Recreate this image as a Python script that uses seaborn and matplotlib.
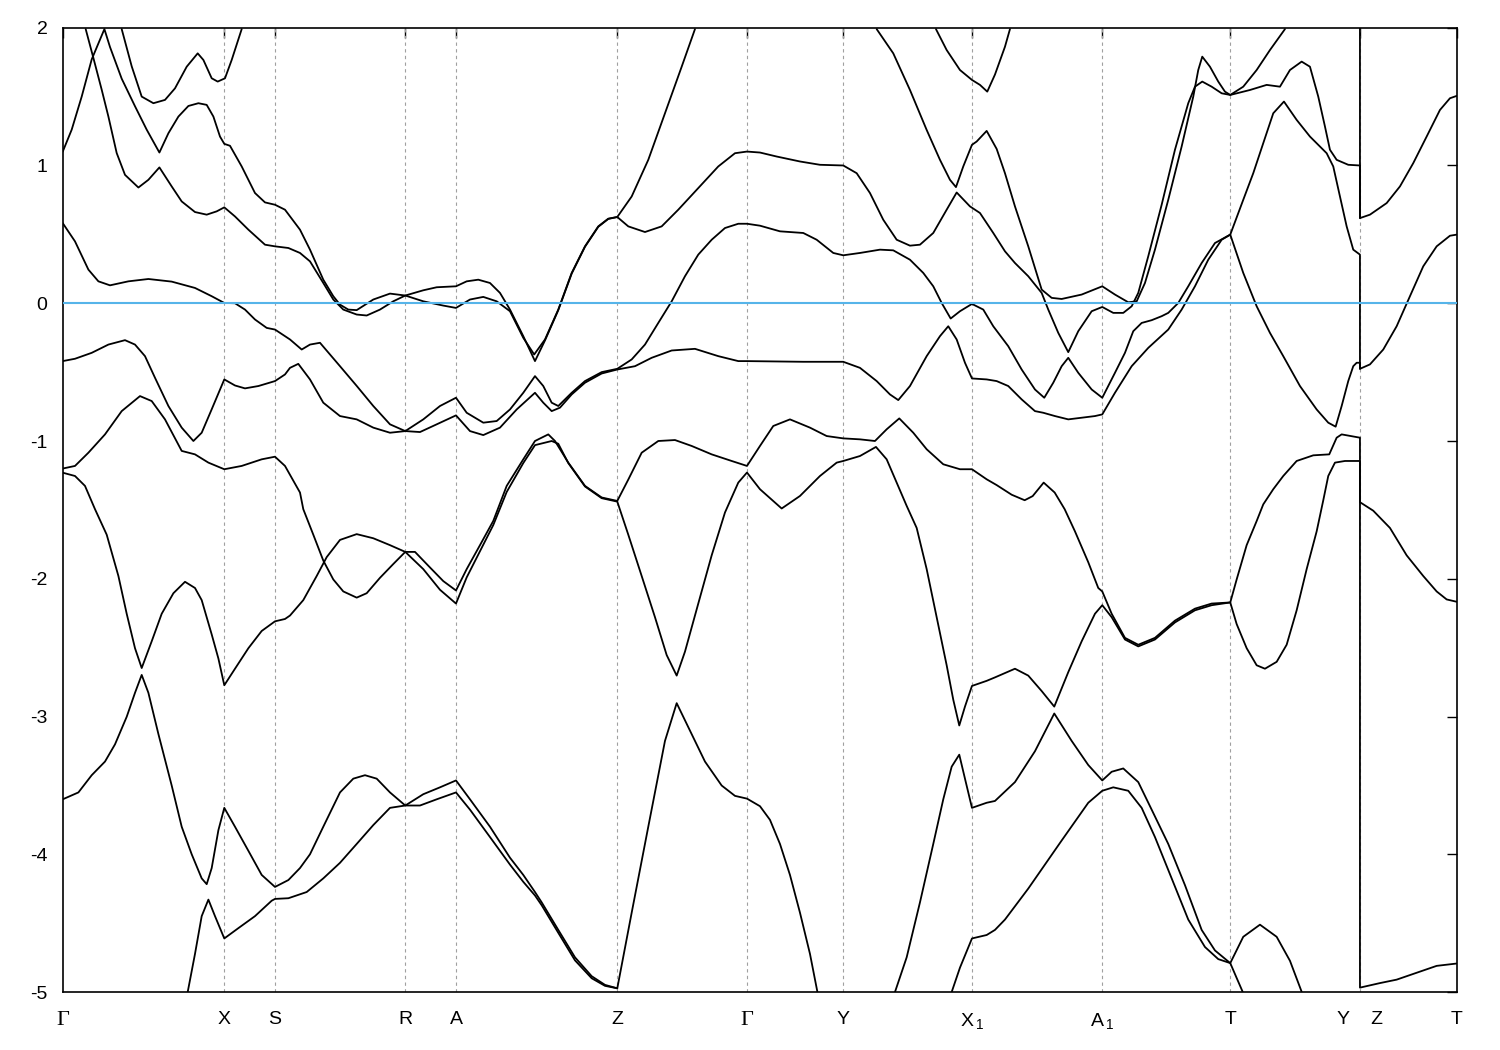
import numpy as np
import pandas as pd
import seaborn as sns
import matplotlib
matplotlib.use("Agg")
import matplotlib.pyplot as plt

# high-symmetry points along the k-path
kpoints = [0.0, 1.616, 2.123, 3.426, 3.933, 5.546, 6.843, 7.806, 9.093, 10.396, 11.676, 12.973, 13.94]
klabels = ["Γ", "X", "S", "R", "A", "Z", "Γ", "Y", r"X$_{\,1}$", r"A$_{\,1}$", "T", "Y    Z", "T"]

# bands as (k, E) pairs, energies in eV relative to E_F
band_a = [(0.0, 1.10), (0.09, 1.26), (0.19, 1.50), (0.29, 1.77), (0.417, 1.99), (0.473, 1.86), (0.59, 1.63),
          (0.723, 1.43), (0.84, 1.26), (0.967, 1.094), (1.057, 1.234), (1.157, 1.355), (1.257, 1.432),
          (1.357, 1.452), (1.44, 1.44), (1.507, 1.355), (1.573, 1.21), (1.616, 1.157), (1.673, 1.143),
          (1.79, 0.993), (1.923, 0.80), (2.023, 0.732), (2.123, 0.715), (2.223, 0.679), (2.373, 0.534),
          (2.473, 0.389), (2.606, 0.171), (2.706, 0.051), (2.773, -0.01), (2.856, -0.046), (2.94, -0.05),
          (3.106, 0.027), (3.273, 0.07), (3.426, 0.056), (3.606, 0.014), (3.806, -0.017), (3.933, -0.034),
          (4.073, 0.027), (4.206, 0.046), (4.34, 0.014), (4.473, -0.058), (4.606, -0.251), (4.715, -0.372),
          (4.823, -0.263), (4.956, -0.046), (5.09, 0.22), (5.223, 0.413), (5.356, 0.558), (5.456, 0.614),
          (5.546, 0.626), (5.69, 0.775), (5.856, 1.041), (6.023, 1.379), (6.19, 1.717), (6.323, 1.99)]

band_b = [(0.23, 1.99), (0.307, 1.78), (0.39, 1.55), (0.457, 1.355), (0.54, 1.09), (0.623, 0.932), (0.757, 0.84),
          (0.857, 0.896), (0.967, 0.986), (1.09, 0.848), (1.19, 0.739), (1.323, 0.662), (1.44, 0.643),
          (1.54, 0.667), (1.616, 0.696), (1.723, 0.63), (1.857, 0.534), (2.023, 0.425), (2.123, 0.413),
          (2.257, 0.401), (2.373, 0.365), (2.473, 0.304), (2.606, 0.147), (2.706, 0.027), (2.806, -0.046),
          (2.94, -0.082), (3.04, -0.089), (3.173, -0.046), (3.306, 0.014), (3.426, 0.056), (3.606, 0.094),
          (3.74, 0.116), (3.933, 0.123), (4.04, 0.159), (4.156, 0.171), (4.273, 0.147), (4.373, 0.075),
          (4.473, -0.046), (4.606, -0.239), (4.723, -0.42), (4.823, -0.27), (4.956, -0.05), (5.09, 0.215),
          (5.223, 0.41), (5.356, 0.555), (5.456, 0.612), (5.546, 0.626), (5.656, 0.558), (5.823, 0.517),
          (5.99, 0.558), (6.156, 0.679), (6.356, 0.836), (6.556, 0.993), (6.723, 1.089), (6.843, 1.101),
          (6.973, 1.094), (7.14, 1.065), (7.373, 1.029), (7.573, 1.005), (7.806, 1.0), (7.94, 0.944),
          (8.073, 0.80), (8.206, 0.606), (8.34, 0.461), (8.473, 0.418), (8.573, 0.425), (8.706, 0.51),
          (8.84, 0.679), (8.94, 0.804), (9.073, 0.703), (9.173, 0.655), (9.306, 0.51), (9.423, 0.377),
          (9.523, 0.292), (9.656, 0.196), (9.79, 0.075), (9.856, -0.046), (9.956, -0.215), (10.056, -0.355),
          (10.156, -0.203), (10.29, -0.058), (10.396, -0.027), (10.506, -0.07), (10.606, -0.07),
          (10.69, -0.022), (10.756, 0.075), (10.856, 0.341), (10.99, 0.715), (11.123, 1.114), (11.256, 1.452),
          (11.323, 1.572), (11.396, 1.609), (11.49, 1.572), (11.59, 1.524), (11.676, 1.512), (11.873, 1.548),
          (12.04, 1.585), (12.173, 1.572), (12.273, 1.693), (12.39, 1.754), (12.473, 1.717), (12.556, 1.50),
          (12.623, 1.283), (12.673, 1.114), (12.74, 1.041), (12.856, 1.005), (12.973, 1.0), (12.973, 0.618)]

band_c = [(0.59, 1.99), (0.69, 1.72), (0.79, 1.50), (0.907, 1.452), (1.023, 1.476), (1.123, 1.56), (1.24, 1.717),
          (1.35, 1.814), (1.407, 1.766), (1.49, 1.633), (1.55, 1.609), (1.623, 1.633), (1.69, 1.766), (1.79, 1.99)]

band_d = [(0.0, 0.582), (0.123, 0.449), (0.257, 0.244), (0.357, 0.159), (0.473, 0.13), (0.657, 0.159),
          (0.857, 0.176), (1.09, 0.157), (1.323, 0.111), (1.49, 0.051), (1.616, 0.002), (1.723, 0.0),
          (1.823, -0.046), (1.923, -0.118), (2.04, -0.179), (2.123, -0.191), (2.223, -0.239), (2.273, -0.263),
          (2.39, -0.336), (2.473, -0.30), (2.573, -0.287), (2.773, -0.457), (2.94, -0.60), (3.106, -0.746),
          (3.273, -0.879), (3.426, -0.928), (3.606, -0.843), (3.773, -0.746), (3.933, -0.686), (4.04, -0.795),
          (4.206, -0.867), (4.34, -0.855), (4.473, -0.771), (4.606, -0.65), (4.723, -0.529), (4.806, -0.601),
          (4.89, -0.722), (4.956, -0.746), (5.09, -0.65), (5.223, -0.565), (5.39, -0.50), (5.546, -0.476),
          (5.69, -0.408), (5.823, -0.30), (5.956, -0.143), (6.09, 0.014), (6.223, 0.196), (6.356, 0.353),
          (6.49, 0.461), (6.623, 0.546), (6.756, 0.577), (6.843, 0.577), (6.973, 0.563), (7.173, 0.522),
          (7.406, 0.51), (7.54, 0.461), (7.706, 0.365), (7.806, 0.348), (7.973, 0.365), (8.173, 0.389),
          (8.306, 0.384), (8.473, 0.316), (8.606, 0.22), (8.706, 0.123), (8.79, 0.002), (8.88, -0.111),
          (8.973, -0.058), (9.093, -0.005), (9.206, -0.046), (9.306, -0.167), (9.456, -0.312), (9.59, -0.481),
          (9.723, -0.626), (9.816, -0.686), (9.906, -0.577), (9.99, -0.457), (10.056, -0.396), (10.156, -0.505),
          (10.29, -0.626), (10.396, -0.686), (10.523, -0.505), (10.623, -0.36), (10.706, -0.203),
          (10.79, -0.143), (10.89, -0.123), (10.99, -0.094), (11.056, -0.07), (11.156, 0.002), (11.256, 0.123),
          (11.39, 0.292), (11.523, 0.437), (11.676, 0.498), (11.806, 0.22), (11.94, -0.022), (12.073, -0.215),
          (12.206, -0.384), (12.373, -0.601), (12.54, -0.771), (12.656, -0.867), (12.73, -0.896),
          (12.79, -0.746), (12.856, -0.565), (12.906, -0.457), (12.94, -0.432), (12.973, -0.432),
          (12.973, -0.476)]

band_e = [(0.0, -0.42), (0.123, -0.403), (0.29, -0.36), (0.457, -0.30), (0.623, -0.268), (0.723, -0.30),
          (0.823, -0.384), (0.923, -0.541), (1.057, -0.746), (1.19, -0.903), (1.307, -1.0), (1.39, -0.94),
          (1.49, -0.77), (1.616, -0.553), (1.723, -0.597), (1.823, -0.618), (1.957, -0.601), (2.123, -0.565),
          (2.223, -0.517), (2.273, -0.469), (2.356, -0.44), (2.473, -0.553), (2.606, -0.722), (2.773, -0.819),
          (2.94, -0.843), (3.106, -0.903), (3.273, -0.94), (3.426, -0.928), (3.573, -0.935), (3.74, -0.879),
          (3.933, -0.814), (4.073, -0.928), (4.206, -0.957), (4.373, -0.903), (4.54, -0.771), (4.723, -0.65),
          (4.806, -0.722), (4.89, -0.783), (4.973, -0.758), (5.09, -0.662), (5.223, -0.577), (5.39, -0.51),
          (5.546, -0.481), (5.723, -0.457), (5.89, -0.396), (6.09, -0.343), (6.323, -0.331), (6.556, -0.384),
          (6.756, -0.42), (6.843, -0.42), (7.406, -0.425), (7.806, -0.425), (7.973, -0.469), (8.14, -0.565),
          (8.273, -0.662), (8.356, -0.703), (8.473, -0.601), (8.64, -0.384), (8.773, -0.239), (8.856, -0.167),
          (8.94, -0.263), (9.023, -0.432), (9.093, -0.546), (9.24, -0.553), (9.34, -0.565), (9.456, -0.601),
          (9.59, -0.698), (9.723, -0.783), (9.806, -0.795), (9.923, -0.819), (10.056, -0.843), (10.19, -0.831),
          (10.323, -0.819), (10.396, -0.807), (10.523, -0.65), (10.69, -0.457), (10.856, -0.324),
          (11.056, -0.191), (11.19, -0.046), (11.323, 0.123), (11.456, 0.316), (11.59, 0.461), (11.676, 0.498),
          (11.806, 0.751), (11.906, 0.944), (12.006, 1.162), (12.106, 1.379), (12.213, 1.464), (12.34, 1.331),
          (12.473, 1.21), (12.64, 1.089), (12.706, 0.993), (12.773, 0.775), (12.84, 0.558), (12.906, 0.389),
          (12.973, 0.353), (12.973, -0.476), (13.073, -0.444), (13.206, -0.336), (13.34, -0.167),
          (13.473, 0.051), (13.606, 0.268), (13.74, 0.413), (13.873, 0.49), (13.94, 0.498)]

band_f = [(0.0, -1.20), (0.123, -1.181), (0.257, -1.085), (0.423, -0.952), (0.59, -0.783), (0.773, -0.674),
          (0.89, -0.71), (1.023, -0.843), (1.19, -1.072), (1.323, -1.097), (1.457, -1.157), (1.616, -1.205),
          (1.79, -1.181), (1.99, -1.133), (2.123, -1.114), (2.223, -1.181), (2.373, -1.374), (2.406, -1.495),
          (2.506, -1.68), (2.606, -1.868), (2.706, -2.005), (2.806, -2.092), (2.94, -2.137), (3.04, -2.105),
          (3.173, -1.993), (3.306, -1.893), (3.426, -1.805), (3.523, -1.805), (3.673, -1.918), (3.806, -2.017),
          (3.933, -2.085), (4.04, -1.93), (4.173, -1.756), (4.306, -1.58), (4.44, -1.326), (4.606, -1.133),
          (4.723, -1.0), (4.756, -0.988), (4.856, -0.952), (4.923, -1.0), (5.056, -1.157), (5.223, -1.326),
          (5.39, -1.41), (5.546, -1.435), (5.656, -1.28), (5.79, -1.085), (5.956, -1.0), (6.123, -0.993),
          (6.29, -1.036), (6.49, -1.097), (6.69, -1.145), (6.843, -1.181), (6.973, -1.036), (7.106, -0.891),
          (7.273, -0.843), (7.473, -0.903), (7.64, -0.964), (7.806, -0.981), (7.973, -0.988), (8.123, -1.0),
          (8.24, -0.915), (8.366, -0.836), (8.506, -0.94), (8.64, -1.06), (8.806, -1.169), (8.973, -1.205),
          (9.093, -1.205), (9.24, -1.278), (9.34, -1.32), (9.49, -1.39), (9.62, -1.43), (9.70, -1.40),
          (9.81, -1.302), (9.92, -1.374), (10.02, -1.495), (10.123, -1.656), (10.256, -1.88), (10.356, -2.067),
          (10.396, -2.092), (10.49, -2.254), (10.623, -2.429), (10.756, -2.479), (10.923, -2.429),
          (11.123, -2.304), (11.323, -2.217), (11.49, -2.18), (11.676, -2.172), (11.74, -2.329), (11.84, -2.504),
          (11.94, -2.628), (12.023, -2.653), (12.14, -2.603), (12.24, -2.479), (12.34, -2.229), (12.44, -1.93),
          (12.54, -1.656), (12.606, -1.431), (12.656, -1.254), (12.723, -1.157), (12.823, -1.145),
          (12.973, -1.145), (12.973, -4.968), (13.173, -4.935), (13.34, -4.91), (13.54, -4.86), (13.74, -4.81),
          (13.94, -4.793)]

band_g = [(0.0, -1.23), (0.123, -1.254), (0.223, -1.326), (0.323, -1.495), (0.44, -1.68), (0.557, -1.98),
          (0.64, -2.254), (0.723, -2.504), (0.79, -2.648), (0.89, -2.454), (0.99, -2.254), (1.107, -2.105),
          (1.223, -2.022), (1.323, -2.067), (1.39, -2.155), (1.49, -2.404), (1.557, -2.579), (1.616, -2.773),
          (1.723, -2.653), (1.857, -2.504), (1.99, -2.379), (2.123, -2.309), (2.223, -2.292), (2.273, -2.267),
          (2.406, -2.155), (2.54, -1.98), (2.64, -1.843), (2.773, -1.718), (2.94, -1.676), (3.106, -1.706),
          (3.273, -1.756), (3.426, -1.805), (3.606, -1.93), (3.773, -2.08), (3.933, -2.18), (4.04, -1.99),
          (4.173, -1.80), (4.306, -1.61), (4.44, -1.37), (4.606, -1.16), (4.723, -1.03), (4.89, -1.0),
          (4.956, -1.02), (5.056, -1.16), (5.223, -1.33), (5.39, -1.415), (5.546, -1.44), (5.656, -1.68),
          (5.79, -1.98), (5.923, -2.279), (6.04, -2.554), (6.14, -2.703), (6.223, -2.529), (6.356, -2.18),
          (6.49, -1.83), (6.623, -1.519), (6.756, -1.302), (6.843, -1.229), (6.973, -1.35), (7.19, -1.49),
          (7.373, -1.399), (7.573, -1.254), (7.74, -1.157), (7.806, -1.145), (7.973, -1.109), (8.133, -1.043),
          (8.24, -1.133), (8.34, -1.302), (8.44, -1.471), (8.54, -1.631), (8.64, -1.93), (8.74, -2.279),
          (8.84, -2.628), (8.906, -2.878), (8.966, -3.065), (9.023, -2.928), (9.093, -2.778), (9.24, -2.741),
          (9.323, -2.716), (9.523, -2.653), (9.656, -2.703), (9.79, -2.815), (9.916, -2.928), (10.056, -2.678),
          (10.19, -2.454), (10.323, -2.254), (10.396, -2.192), (10.49, -2.279), (10.623, -2.441),
          (10.756, -2.491), (10.923, -2.441), (11.123, -2.317), (11.323, -2.229), (11.49, -2.192),
          (11.676, -2.172), (11.74, -2.005), (11.84, -1.756), (11.94, -1.581), (12.006, -1.46), (12.106, -1.35),
          (12.206, -1.254), (12.34, -1.145), (12.506, -1.104), (12.666, -1.097), (12.74, -0.976),
          (12.79, -0.952), (12.973, -0.976), (12.973, -1.444), (13.106, -1.506), (13.273, -1.631),
          (13.44, -1.83), (13.606, -1.98), (13.74, -2.092), (13.84, -2.15), (13.94, -2.167)]

band_h = [(0.0, -3.601), (0.157, -3.551), (0.29, -3.426), (0.423, -3.327), (0.523, -3.202), (0.64, -3.002),
          (0.723, -2.828), (0.79, -2.698), (0.857, -2.828), (0.957, -3.127), (1.09, -3.501), (1.19, -3.80),
          (1.29, -4.0), (1.39, -4.175), (1.44, -4.217), (1.49, -4.10), (1.557, -3.825), (1.616, -3.663),
          (1.723, -3.80), (1.857, -3.975), (1.99, -4.15), (2.123, -4.237), (2.257, -4.187), (2.373, -4.10),
          (2.473, -4.0), (2.606, -3.80), (2.773, -3.551), (2.906, -3.451), (3.023, -3.426), (3.14, -3.451),
          (3.273, -3.551), (3.426, -3.646), (3.573, -3.646), (3.74, -3.601), (3.933, -3.551), (4.073, -3.676),
          (4.273, -3.875), (4.473, -4.075), (4.606, -4.2), (4.723, -4.299), (4.79, -4.37), (4.956, -4.57),
          (5.123, -4.77), (5.29, -4.90), (5.423, -4.955), (5.546, -4.973), (5.69, -4.424), (5.856, -3.80),
          (6.023, -3.177), (6.14, -2.903), (6.256, -3.077), (6.423, -3.327), (6.59, -3.501), (6.723, -3.576),
          (6.843, -3.596), (6.973, -3.651), (7.073, -3.75), (7.173, -3.925), (7.273, -4.15), (7.373, -4.424),
          (7.473, -4.723), (7.547, -4.998)]

band_i = [(1.25, -5.0), (1.323, -4.723), (1.39, -4.449), (1.457, -4.329), (1.523, -4.449), (1.616, -4.611),
          (1.757, -4.536), (1.923, -4.449), (2.09, -4.337), (2.123, -4.324), (2.257, -4.319), (2.44, -4.274),
          (2.606, -4.175), (2.773, -4.062), (2.94, -3.925), (3.106, -3.788), (3.273, -3.663), (3.426, -3.646),
          (3.606, -3.564), (3.773, -3.514), (3.933, -3.464), (4.073, -3.601), (4.273, -3.80), (4.473, -4.025),
          (4.606, -4.15), (4.723, -4.274), (4.79, -4.349), (4.956, -4.549), (5.123, -4.748), (5.29, -4.885),
          (5.423, -4.948), (5.546, -4.973)]

band_j = [(8.323, -5.0), (8.44, -4.748), (8.573, -4.349), (8.706, -3.925), (8.806, -3.601), (8.89, -3.364),
          (8.966, -3.277), (9.023, -3.451), (9.093, -3.663), (9.24, -3.626), (9.323, -3.613), (9.523, -3.476),
          (9.723, -3.252), (9.916, -2.978), (10.09, -3.177), (10.256, -3.352), (10.396, -3.464),
          (10.49, -3.401), (10.606, -3.377), (10.756, -3.476), (10.89, -3.676), (11.056, -3.925),
          (11.223, -4.224), (11.39, -4.549), (11.523, -4.698), (11.676, -4.79), (11.806, -4.599),
          (11.973, -4.511), (12.14, -4.599), (12.273, -4.773), (12.39, -4.998)]

band_k = [(8.89, -5.0), (8.973, -4.823), (9.093, -4.611), (9.24, -4.586), (9.323, -4.549), (9.423, -4.474),
          (9.656, -4.249), (9.99, -3.90), (10.256, -3.626), (10.396, -3.539), (10.506, -3.514),
          (10.656, -3.539), (10.79, -3.663), (10.923, -3.875), (11.09, -4.175), (11.256, -4.474),
          (11.423, -4.673), (11.556, -4.761), (11.676, -4.79), (11.74, -4.898), (11.80, -4.998)]

band_l = [(8.14, 1.99), (8.306, 1.814), (8.473, 1.548), (8.64, 1.258), (8.773, 1.041), (8.873, 0.896),
          (8.933, 0.843), (9.006, 0.993), (9.093, 1.15), (9.14, 1.174), (9.24, 1.251), (9.34, 1.12),
          (9.423, 0.944), (9.523, 0.703), (9.656, 0.413), (9.79, 0.099), (9.89, 0.039), (9.99, 0.031),
          (10.19, 0.063), (10.396, 0.123), (10.523, 0.063), (10.656, 0.007), (10.74, 0.014), (10.823, 0.147),
          (10.923, 0.389), (11.056, 0.751), (11.19, 1.138), (11.306, 1.50), (11.356, 1.693), (11.396, 1.79),
          (11.473, 1.717), (11.556, 1.609), (11.623, 1.536), (11.676, 1.512), (11.806, 1.572), (11.94, 1.693),
          (12.073, 1.838), (12.223, 1.99)]

band_m = [(8.733, 1.99), (8.84, 1.838), (8.973, 1.693), (9.093, 1.621), (9.173, 1.585), (9.246, 1.536),
          (9.323, 1.66), (9.423, 1.862), (9.473, 1.99)]

band_n = [(12.973, 2.1), (12.973, 0.618), (13.073, 0.643), (13.24, 0.727), (13.373, 0.848), (13.506, 1.017),
          (13.64, 1.21), (13.773, 1.403), (13.873, 1.488), (13.94, 1.505)]

bands = {"a": band_a, "b": band_b, "c": band_c, "d": band_d, "e": band_e, "f": band_f, "g": band_g,
         "h": band_h, "i": band_i, "j": band_j, "k": band_k, "l": band_l, "m": band_m, "n": band_n}

rows = []
for name, pts in bands.items():
    for order, (k, e) in enumerate(pts):
        rows.append({"band": name, "order": order, "k": k, "E": e})
df = pd.DataFrame(rows)

sns.set_theme(style="white")
plt.rcParams["font.family"] = ["Liberation Sans", "DejaVu Sans"]
plt.rcParams["mathtext.fontset"] = "custom"
plt.rcParams["mathtext.rm"] = "Liberation Sans"
plt.rcParams["mathtext.it"] = "Liberation Sans"
plt.rcParams["axes.unicode_minus"] = False

fig = plt.figure(figsize=(15, 10.5), dpi=100)
ax = fig.add_axes([0.0418, 0.0552, 0.9293, 0.9184])

# dashed guides at the interior high-symmetry points
for kp in kpoints[1:-1]:
    ax.axvline(kp, color="#a0a0a0", lw=0.8, ls=(0, (3, 3)), zorder=1)

sns.lineplot(data=df, x="k", y="E", units="band", estimator=None, sort=False,
             color="black", linewidth=1.3, legend=False, ax=ax, zorder=2)
for ln in ax.get_lines():
    ln.set_solid_joinstyle("round")

ax.axhline(0, color="#56b4e9", lw=1.5, zorder=3)

ax.set_xlim(kpoints[0], kpoints[-1])
ax.set_ylim(-5, 2)
ax.set_xticks(kpoints)
ax.set_xticklabels(klabels)
ax.set_yticks(range(-5, 3))
ax.set_xlabel("")
ax.set_ylabel("")

ax.tick_params(direction="in", top=True, right=True, length=7, width=1.0, labelsize=14, colors="black")
ax.tick_params(axis="x", pad=14)
ax.tick_params(axis="y", pad=11)
for lab in ax.get_xticklabels():
    if lab.get_text() == "Γ":
        lab.set_fontfamily(["Liberation Serif", "DejaVu Serif"])
        lab.set_fontsize(16)

for sp in ax.spines.values():
    sp.set_linewidth(1.2)
    sp.set_color("black")

fig.savefig("out.png", dpi=100)
